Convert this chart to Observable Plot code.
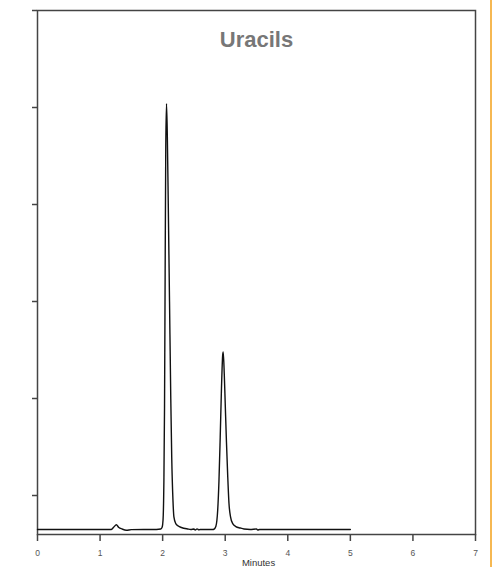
<!DOCTYPE html>
<html>
<head>
<meta charset="utf-8">
<script src="https://cdn.jsdelivr.net/npm/d3@7"></script>
<script src="https://cdn.jsdelivr.net/npm/@observablehq/plot@0.6"></script>
<style>
  html, body { margin: 0; padding: 0; background: #fff; }
  #wrap { position: relative; width: 500px; height: 567px; overflow: hidden; }
  #edge { position: absolute; left: 490px; top: 0; width: 2px; height: 567px; background: #f6b852; }
</style>
</head>
<body>
<div id="wrap"><div id="edge"></div></div>
<script>
const title = "Uracils";
const xLabel = "Minutes";
const xTicks = [0, 1, 2, 3, 4, 5, 6, 7];
const yTicks = [0, 1, 2, 3, 4, 5];

// retention time (minutes)
const time = [
  0.00, 1.18, 1.22, 1.26, 1.30, 1.35, 1.42, 1.50, 1.90, 1.97, 1.99,
  2.000, 2.010, 2.020, 2.030, 2.040, 2.050, 2.062, 2.075, 2.090, 2.110, 2.130, 2.145, 2.165, 2.180, 2.210, 2.250, 2.300, 2.400, 2.450,
  2.50, 2.52, 2.55, 2.58, 2.60, 2.80,
  2.820, 2.850, 2.880, 2.900, 2.920, 2.940, 2.960, 2.968, 2.985, 3.000, 3.020, 3.040, 3.060, 3.085, 3.120, 3.170, 3.240, 3.300, 3.400,
  3.50, 3.52, 3.55, 5.00
];
// detector response (arbitrary units)
const signal = [
  -0.350, -0.350, -0.325, -0.302, -0.330, -0.345, -0.358, -0.352, -0.350, -0.345, -0.330,
  -0.300, -0.200, 0.150, 0.900, 2.300, 3.600, 4.040, 3.700, 3.000, 2.000, 1.000, 0.400, -0.050, -0.220, -0.290, -0.315, -0.330, -0.345, -0.350,
  -0.345, -0.356, -0.344, -0.354, -0.350, -0.350,
  -0.348, -0.320, -0.150, 0.150, 0.600, 1.100, 1.450, 1.480, 1.250, 0.950, 0.550, 0.200, -0.080, -0.220, -0.290, -0.320, -0.335, -0.345, -0.350,
  -0.345, -0.356, -0.350, -0.350
];

const data = time.map((t, i) => ({t, v: signal[i]}));

const chart = Plot.plot({
  width: 500,
  height: 567,
  marginLeft: 37,
  marginRight: 25,
  marginTop: 10,
  marginBottom: 33,
  style: {fontFamily: "'Liberation Sans', Arial, sans-serif", background: "transparent", overflow: "visible"},
  x: {domain: [0, 7]},
  y: {domain: [-0.402, 5]},
  marks: [
    Plot.axisX({ticks: xTicks, tickFormat: "d", tickSize: 7, tickPadding: 8, fontSize: 8.5, stroke: "#444", fill: "#555", strokeWidth: 1.5, label: null}),
    Plot.axisY({ticks: yTicks, tickSize: 5, tickFormat: () => "", stroke: "#444", strokeWidth: 1.5, label: null}),
    Plot.frame({stroke: "#444", strokeWidth: 1.5}),
    Plot.line(data, {x: "t", y: "v", stroke: "#111", strokeWidth: 1.4, curve: "monotone-x"}),
    Plot.text([title], {frameAnchor: "top", lineAnchor: "top", dy: 21, fontSize: 22, fontWeight: "bold", fill: "#777"}),
    Plot.text([xLabel], {frameAnchor: "bottom", lineAnchor: "top", dy: 25, dx: 2, fontSize: 9.5, fill: "#333"})
  ]
});
document.getElementById("wrap").appendChild(chart);
</script>
</body>
</html>
